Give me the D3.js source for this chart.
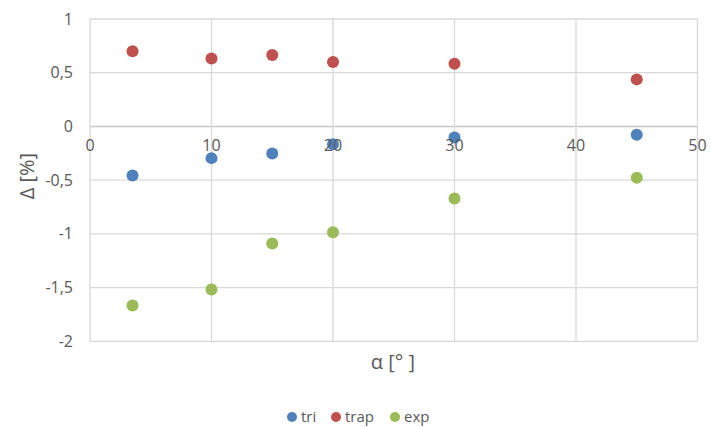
<!DOCTYPE html>
<html><head><meta charset="utf-8">
<script src="https://cdn.jsdelivr.net/npm/d3@7"></script>
<style>body{margin:0;background:#fff;} svg{display:block;font-family:"Open Sans","Liberation Sans",sans-serif;}</style>
</head><body>
<svg id="c" width="710" height="427"></svg>
<script>
const alpha = [3.5, 10, 15, 20, 30, 45];
const tri  = [-0.456, -0.295, -0.251, -0.165, -0.102, -0.078];
const trap = [0.70, 0.633, 0.664, 0.599, 0.583, 0.438];
const exp  = [-1.667, -1.518, -1.09, -0.985, -0.67, -0.478];
const seriesNames = ["tri", "trap", "exp"];
const seriesColors = ["#4f81bd", "#c0504d", "#9bbb59"];
const xTicks = [0, 10, 20, 30, 40, 50];
const yTicks = [1, 0.5, 0, -0.5, -1, -1.5, -2];

const svg = d3.select("#c");
const x = d3.scaleLinear().domain([0, 50]).range([90, 697.5]);
const y = d3.scaleLinear().domain([-2, 1]).range([341.3, 19]);
const fmt = d => String(d).replace(".", ",");

// grid
const g = svg.append("g");
g.selectAll(".hg").data(yTicks).enter().append("line")
  .attr("x1", x(0)).attr("x2", x(50))
  .attr("y1", d => y(d)).attr("y2", d => y(d))
  .attr("stroke", d => d === 0 ? "#c8c8c8" : "#d9d9d9").attr("stroke-width", d => d === 0 ? 1.6 : 1.3);
g.selectAll(".vg").data(xTicks).enter().append("line")
  .attr("y1", y(1)).attr("y2", y(-2))
  .attr("x1", d => x(d)).attr("x2", d => x(d))
  .attr("stroke", "#d9d9d9").attr("stroke-width", 1.3);

// y tick labels
svg.append("g").selectAll("text").data(yTicks).enter().append("text")
  .attr("x", 73).attr("y", d => y(d)).attr("dy", "0.35em")
  .attr("text-anchor", "end").attr("font-size", 16).attr("fill", "#595959")
  .text(fmt);

// axis titles
svg.append("text").attr("transform", `translate(34,${(y(1)+y(-2))/2 - 4}) rotate(-90)`)
  .attr("text-anchor", "middle").attr("font-size", 20).attr("fill", "#595959").text("Δ [%]");
svg.append("text").attr("x", 393).attr("y", 369)
  .attr("text-anchor", "middle").attr("font-size", 20).attr("fill", "#595959").text("α [° ]");

// points
const data = [tri, trap, exp];
data.forEach((vals, i) => {
  svg.append("g").selectAll("circle").data(vals).enter().append("circle")
    .attr("cx", (d, j) => x(alpha[j])).attr("cy", d => y(d)).attr("r", 6)
    .attr("fill", seriesColors[i]);
});

// x tick labels (axis at y=0), drawn above the points
svg.append("g").selectAll("text").data(xTicks).enter().append("text")
  .attr("x", d => x(d)).attr("y", y(0) + 25)
  .attr("text-anchor", "middle").attr("font-size", 16).attr("fill", "#595959")
  .text(d => d);

// legend
const leg = svg.append("g");
const legX = [292, 336, 395];
seriesNames.forEach((n, i) => {
  leg.append("circle").attr("cx", legX[i]).attr("cy", 417).attr("r", 5).attr("fill", seriesColors[i]);
  leg.append("text").attr("x", legX[i] + 9).attr("y", 417).attr("dy", "0.35em")
    .attr("font-size", 15).attr("fill", "#595959").text(n);
});
</script>
</body></html>
